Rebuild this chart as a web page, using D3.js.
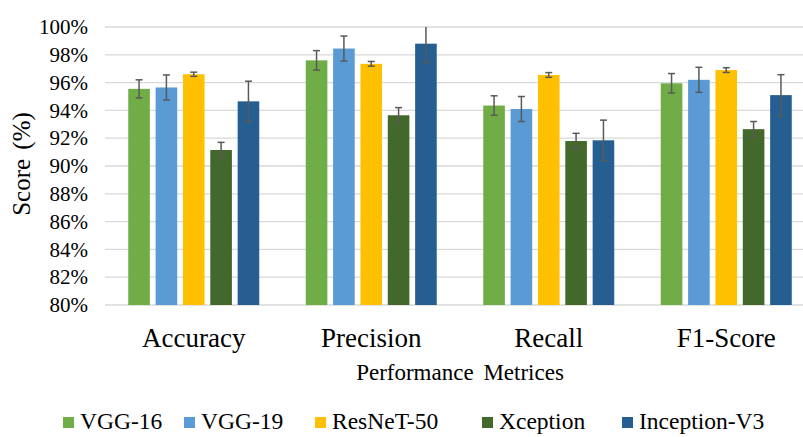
<!DOCTYPE html>
<html>
<head>
<meta charset="utf-8">
<script src="https://d3js.org/d3.v7.min.js"></script>
<style>
  body { margin: 0; background: #fff; }
</style>
</head>
<body>
<svg id="chart" width="803" height="437"></svg>
<script>
// metric groups along the x axis
var metrics = ["Accuracy", "Precision", "Recall", "F1-Score"];
var models = ["VGG-16", "VGG-19", "ResNeT-50", "Xception", "Inception-V3"];
var colors = ["#70ad47", "#5b9bd5", "#ffc000", "#43682b", "#255e91"];
var yTicks = [80, 82, 84, 86, 88, 90, 92, 94, 96, 98, 100];

// scores (%) per model, in metric order
var vgg16 = [95.55, 97.6, 94.35, 95.95];
var vgg19 = [95.65, 98.45, 94.1, 96.2];
var resnet50 = [96.6, 97.35, 96.55, 96.9];
var xception = [91.15, 93.65, 91.8, 92.65];
var inceptionV3 = [94.65, 98.8, 91.85, 95.1];

// error bar half-widths
var vgg16Err = [0.65, 0.7, 0.7, 0.7];
var vgg19Err = [0.9, 0.9, 0.9, 0.9];
var resnet50Err = [0.15, 0.17, 0.17, 0.17];
var xceptionErr = [0.55, 0.55, 0.55, 0.55];
var inceptionV3Err = [1.45, 1.35, 1.45, 1.47];

var values = [vgg16, vgg19, resnet50, xception, inceptionV3];
var errors = [vgg16Err, vgg19Err, resnet50Err, xceptionErr, inceptionV3Err];

var serif = "'Liberation Serif', 'Times New Roman', 'DejaVu Serif', serif";
var svg = d3.select("#chart");
var plotLeft = 105, plotRight = 815, plotTop = 27, plotBottom = 305;

var x0 = d3.scaleBand().domain(metrics).range([plotLeft, plotRight])
    .paddingInner(0.262).paddingOuter(0.131);
var x1 = d3.scaleBand().domain(models).range([0, x0.bandwidth()])
    .paddingInner(0.21).paddingOuter(0);
var y = d3.scaleLinear().domain([80, 100]).range([plotBottom, plotTop]);

// gridlines
svg.append("g")
    .selectAll("line")
    .data(yTicks)
    .enter().append("line")
    .attr("x1", plotLeft).attr("x2", plotRight)
    .attr("y1", function(d) { return y(d); })
    .attr("y2", function(d) { return y(d); })
    .attr("stroke", "#d9d9d9")
    .attr("stroke-width", 1.3);

// y axis labels
var yAxis = d3.axisLeft(y).tickValues(yTicks).tickSize(0).tickPadding(0)
    .tickFormat(function(d) { return d + "%"; });
var yg = svg.append("g").attr("transform", "translate(88,0)").call(yAxis);
yg.attr("font-family", serif).attr("font-size", 21);
yg.select(".domain").remove();
yg.selectAll("text").attr("fill", "#000");

// bars
var rows = [];
metrics.forEach(function(m, i) {
    models.forEach(function(s, j) {
        rows.push({ metric: m, model: s, k: j, v: values[j][i], e: errors[j][i] });
    });
});

var g = svg.append("g");
g.selectAll("rect")
    .data(rows)
    .enter().append("rect")
    .attr("x", function(d) { return x0(d.metric) + x1(d.model); })
    .attr("y", function(d) { return y(d.v); })
    .attr("width", x1.bandwidth())
    .attr("height", function(d) { return y(80) - y(d.v); })
    .attr("fill", function(d) { return colors[d.k]; });

// error bars
var cap = 3.5;
var eb = g.selectAll(".err")
    .data(rows)
    .enter().append("g")
    .attr("class", "err")
    .attr("stroke", "#595959")
    .attr("stroke-width", 1.5);
function cx(d) { return x0(d.metric) + x1(d.model) + x1.bandwidth() / 2; }
function hi(d) { return Math.min(100, d.v + d.e); }
eb.append("line")
    .attr("x1", cx).attr("x2", cx)
    .attr("y1", function(d) { return y(hi(d)); })
    .attr("y2", function(d) { return y(d.v - d.e); });
eb.filter(function(d) { return d.v + d.e <= 100; }).append("line")
    .attr("x1", function(d) { return cx(d) - cap; })
    .attr("x2", function(d) { return cx(d) + cap; })
    .attr("y1", function(d) { return y(hi(d)); })
    .attr("y2", function(d) { return y(hi(d)); });
eb.append("line")
    .attr("x1", function(d) { return cx(d) - cap; })
    .attr("x2", function(d) { return cx(d) + cap; })
    .attr("y1", function(d) { return y(d.v - d.e); })
    .attr("y2", function(d) { return y(d.v - d.e); });

// category labels
svg.append("g")
    .selectAll("text")
    .data(metrics)
    .enter().append("text")
    .attr("x", function(d) { return x0(d) + x0.bandwidth() / 2; })
    .attr("y", 347)
    .attr("text-anchor", "middle")
    .attr("font-size", 27)
    .text(function(d) { return d; });

// axis titles
svg.append("text")
    .attr("x", 460).attr("y", 380)
    .attr("text-anchor", "middle")
    .attr("font-size", 23)
    .attr("word-spacing", 4)
    .text("Performance Metrices");

svg.append("text")
    .attr("transform", "translate(30,164) rotate(-90)")
    .attr("text-anchor", "middle")
    .attr("font-size", 25)
    .attr("word-spacing", 3)
    .text("Score (%)");

// legend
var legendX = [63, 184, 315, 482, 622];
var lg = svg.append("g")
    .selectAll("g")
    .data(models)
    .enter().append("g")
    .attr("transform", function(d, i) { return "translate(" + legendX[i] + ",417)"; });
lg.append("rect")
    .attr("width", 11).attr("height", 11)
    .attr("fill", function(d, i) { return colors[i]; });
lg.append("text")
    .attr("x", 17).attr("y", 12)
    .attr("font-size", 23.5)
    .text(function(d) { return d; });

svg.selectAll("text").style("font-family", serif).attr("fill", "#000");
</script>
</body>
</html>
